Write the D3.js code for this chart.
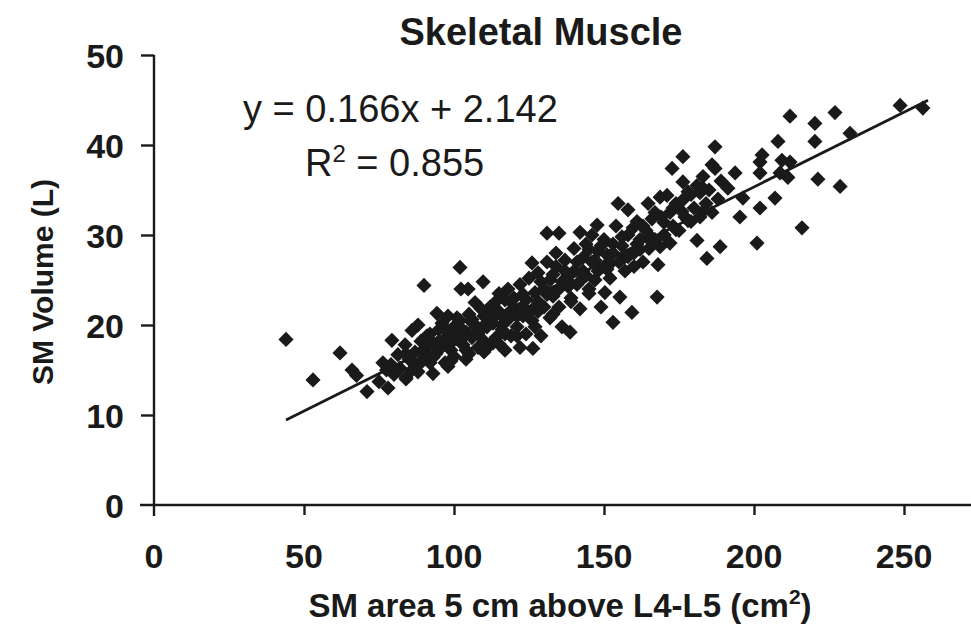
<!DOCTYPE html>
<html><head><meta charset="utf-8">
<script src="https://cdn.jsdelivr.net/npm/d3@7"></script>
<style>body{margin:0;background:#fff}svg{display:block}text{font-family:"Liberation Sans",Arial,sans-serif;fill:#1a1a1a}</style>
</head><body><svg id="c" width="971" height="638"></svg>
<script>
const title = "Skeletal Muscle";
const xLabel = "SM area 5 cm above L4-L5 (cm";
const yLabel = "SM Volume (L)";
const xTicks = [0,50,100,150,200,250];
const yTicks = [0,10,20,30,40,50];
const slope = 0.166, intercept = 2.142, r2 = "0.855";
const lineRange = [44, 258];
const xs = [78,76.3,79.3,81.3,83.7,80,82,84,85,86,87,88,88,89,90,90,91,92,92,93,94.3,94,95,96,96,97,98,98,99,100,100,101,102,102.3,104.7,102,103,104,105,105,106,107,107,108,109,110,110,109.7,111,112,112,113,114,115,115,116,117,117,118,118,119,120,120,121,122,122,123,124,124,125,126,126,126.3,127,128,128,129,130,130,131,131,132,132,133,134,134,135,135,136,136,137,138,138.7,139,140,140,141,142,142,143,144,144,145,146,146,147.7,147,148,149,150,150.3,150,151,152,153,153,154,154.7,155,155.3,156,157,158,158,159.3,159.7,160,160,161,162,163,164,164.7,165,166,167,167.7,168,168.7,168.7,169,170,171,172,172,172.7,173,174,175,176.3,176.3,176.3,177,178,179,180,181,181,182,182,183,184,184.3,185,186,186,187,187,188,188.7,189,191.3,193.7,195.3,196.3,201,202,202,202,202.7,207,208,208.7,209.3,211.3,212,212,216,220.3,220.3,221.3,227,228.7,232,248.7,256.3,44,53,62,66,67.5,71,75,77.5,79,86,91,95,99,103,108,113,118,123,128,133,138,143,148,152,157,162,166,170,174,178,183,145,139,133,127,121,115,110,104,98,93,88,84,97,101,106,111,116,119,84,86,89,91,93,95,97,99,101,103,104,106,108,109,111,113,114,116,117,119,121,123,125,127,129,131,133,135,137,139,141,143,145,147,149,151,153,156,158,161,163,165,167,170,173,176,179,183];
const ys = [13.0,15.8,18.3,16.7,17.8,14.5,15.2,14.0,16.2,19.4,17.0,15.5,20.0,18.2,16.3,24.4,17.5,19.0,15.8,18.0,21.3,16.8,19.5,17.6,20.2,15.8,18.8,21.0,17.2,19.8,16.5,18.5,20.5,24.0,24.0,26.4,17.8,19.2,21.2,16.8,18.6,20.0,22.5,17.5,19.5,21.0,18.2,24.8,19.8,17.8,22.0,20.8,18.6,21.5,23.5,19.5,17.2,22.8,20.6,24.0,18.8,21.8,23.0,19.8,17.5,24.5,21.0,22.8,19.0,25.2,26.9,20.5,17.4,23.6,21.5,25.8,18.8,24.0,22.0,30.2,27.0,25.0,20.8,23.2,26.5,28.0,30.2,22.0,24.8,19.8,27.2,25.5,19.2,23.0,28.5,26.0,24.5,30.3,21.8,27.5,25.5,29.0,23.5,27.0,30.0,31.1,25.0,28.2,22.0,26.5,23.6,29.5,27.8,25.2,20.3,29.0,31.0,33.5,27.0,23.1,28.8,26.0,32.8,30.0,21.4,30.8,28.0,26.5,31.5,29.5,27.0,30.5,33.5,28.5,31.8,29.5,23.1,26.7,28.7,34.2,32.0,30.0,34.4,29.1,32.5,37.4,31.0,33.5,30.5,38.7,35.9,33.9,32.0,34.8,31.5,33.0,29.4,35.5,34.7,32.0,36.5,33.5,27.4,35.0,32.5,37.8,39.8,37.4,34.0,28.7,36.0,35.2,36.9,32.0,34.1,29.1,38.1,36.9,33.0,38.9,34.1,40.4,36.9,38.3,36.4,38.1,43.2,30.8,42.4,40.4,36.2,43.6,35.4,41.3,44.4,44.1,18.4,13.9,16.9,15.0,14.4,12.6,13.7,15.0,15.6,16.0,16.8,17.3,18.0,18.6,19.4,20.2,21.0,22.0,22.6,23.6,24.3,25.2,26.0,26.8,27.6,28.4,29.2,30.0,30.6,31.6,32.6,24.0,22.6,21.2,19.8,18.8,17.9,17.0,16.2,15.4,14.6,14.8,14.2,18.2,19.4,20.3,21.0,20.0,21.6,16.8,15.0,17.0,18.8,16.4,18.2,19.6,16.0,20.8,19.4,17.2,20.6,19.0,21.8,20.8,18.0,22.6,21.0,19.0,22.6,21.0,23.4,21.4,22.0,24.8,23.4,25.6,24.0,26.0,24.6,27.0,26.0,28.4,27.2,28.8,26.2,28.0,29.8,27.6,29.0,31.0,30.0,32.5,31.4,33.0,32.6,34.5,35.2];

const svg = d3.select("#c");
const x = d3.scaleLinear().domain([0, 270]).range([154, 964]);
const y = d3.scaleLinear().domain([0, 50]).range([505, 55]);

// axes
const xAxis = svg.append("g").attr("transform", `translate(0,${y(0)})`)
  .call(d3.axisBottom(x).tickValues(xTicks.slice(1)).tickSize(10).tickFormat(""));
xAxis.select(".domain").attr("d", `M140,0H971`);
const yAxis = svg.append("g").attr("transform", `translate(${x(0)},0)`)
  .call(d3.axisLeft(y).tickValues(yTicks.slice(1)).tickSize(13).tickFormat(""));
yAxis.select(".domain").attr("d", `M0,${y(50)}V${y(0)+11}`);
svg.selectAll(".domain").attr("stroke", "#1a1a1a").attr("stroke-width", 2.4);
svg.selectAll(".tick line").attr("stroke", "#1a1a1a").attr("stroke-width", 2.4);

// tick labels
svg.append("g").selectAll("text").data(xTicks).join("text")
  .attr("x", d => x(d)).attr("y", 568).attr("text-anchor", "middle")
  .attr("font-size", 34).attr("font-weight", "bold").text(d => d);
svg.append("g").selectAll("text").data(yTicks).join("text")
  .attr("x", 124).attr("y", d => y(d) + 13).attr("text-anchor", "end")
  .attr("font-size", 34).attr("font-weight", "bold").text(d => d);

// points
const pts = xs.map((d, i) => [d, ys[i]]);
svg.append("g").selectAll("path").data(pts).join("path")
  .attr("d", d3.symbol(d3.symbolSquare, 115))
  .attr("transform", d => `translate(${x(d[0])},${y(d[1])}) rotate(45)`)
  .attr("fill", "#1a1a1a");

// regression line
svg.append("line")
  .attr("x1", x(lineRange[0])).attr("y1", y(slope*lineRange[0]+intercept))
  .attr("x2", x(lineRange[1])).attr("y2", y(slope*lineRange[1]+intercept))
  .attr("stroke", "#1a1a1a").attr("stroke-width", 2.8);

// texts
svg.append("text").attr("x", 541).attr("y", 45).attr("text-anchor", "middle")
  .attr("font-size", 38).attr("font-weight", "bold").text(title);
svg.append("text").attr("x", 243).attr("y", 122).attr("font-size", 38)
  .text(`y = ${slope}x + ${intercept}`);
const r = svg.append("text").attr("x", 305).attr("y", 176).attr("font-size", 38);
r.append("tspan").text("R");
r.append("tspan").attr("dy", -14).attr("font-size", 24).text("2");
r.append("tspan").attr("dy", 14).text(` = ${r2}`);
const xl = svg.append("text").attr("x", 560).attr("y", 617).attr("text-anchor", "middle")
  .attr("font-size", 33).attr("font-weight", "bold");
xl.append("tspan").text(xLabel);
xl.append("tspan").attr("dy", -13).attr("font-size", 21).text("2");
xl.append("tspan").attr("dy", 13).text(")");
svg.append("text").attr("transform", "translate(53,282) rotate(-90)").attr("text-anchor", "middle")
  .attr("font-size", 30).attr("font-weight", "bold").text(yLabel);
</script></body></html>
